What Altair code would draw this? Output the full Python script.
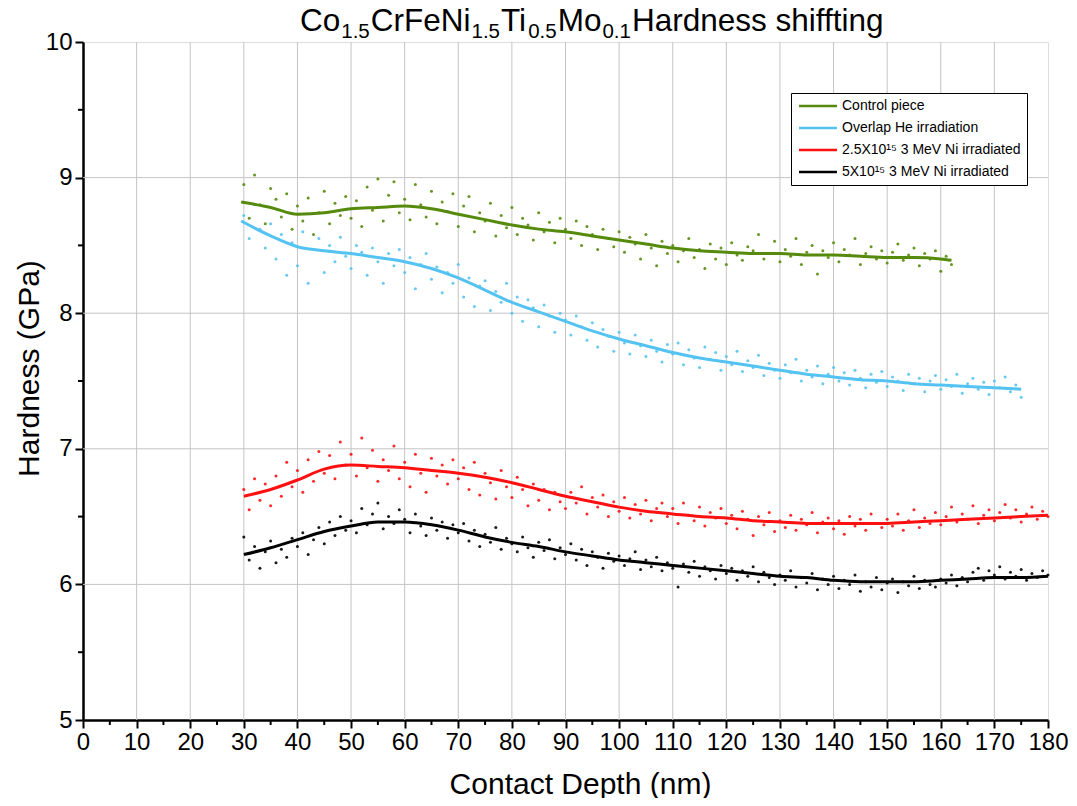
import altair as alt
import pandas as pd

# ---------------- data ----------------
x_ticks = list(range(0, 181, 10))
y_ticks = [5, 6, 7, 8, 9, 10]
x_grid = list(range(10, 171, 10))
y_grid = [6, 7, 8, 9]
x_minor = list(range(5, 180, 10))
y_minor = [5.5, 6.5, 7.5, 8.5, 9.5]

series_names = ["Control piece", "Overlap He irradiation",
                "2.5X10¹⁵ 3 MeV Ni irradiated", "5X10¹⁵ 3 MeV Ni irradiated"]
series_colors = ["#558a0c", "#55c3f2", "#ff1010", "#000000"]

# smoothed curves
green_x = [29.5, 35, 40, 45, 50, 55, 60, 65, 70, 75, 80, 85, 90, 95, 100, 105, 110, 115,
           120, 125, 130, 135, 140, 145, 150, 155, 160, 162]
green_y = [8.82, 8.78, 8.73, 8.74, 8.77, 8.78, 8.79, 8.77, 8.73, 8.69, 8.65, 8.62, 8.60, 8.57,
           8.54, 8.51, 8.48, 8.46, 8.45, 8.44, 8.44, 8.43, 8.43, 8.42, 8.41, 8.41, 8.40, 8.39]
blue_x = [29.5, 35, 40, 45, 50, 55, 60, 65, 70, 75, 80, 85, 90, 95, 100, 105, 110, 115, 120,
          125, 130, 135, 140, 145, 150, 155, 160, 165, 170, 175]
blue_y = [8.68, 8.57, 8.49, 8.46, 8.44, 8.41, 8.38, 8.33, 8.26, 8.17, 8.08, 8.01, 7.94, 7.87,
          7.81, 7.76, 7.71, 7.67, 7.64, 7.61, 7.58, 7.55, 7.53, 7.51, 7.50, 7.48, 7.47, 7.46,
          7.45, 7.44]
red_x = list(range(30, 181, 5))
red_y = [6.65, 6.70, 6.77, 6.85, 6.88, 6.87, 6.86, 6.84, 6.82, 6.79, 6.75, 6.70, 6.65, 6.61,
         6.57, 6.54, 6.52, 6.50, 6.49, 6.47, 6.46, 6.45, 6.45, 6.45, 6.45, 6.46, 6.47, 6.48,
         6.49, 6.50, 6.51]
black_x = list(range(30, 181, 5))
black_y = [6.22, 6.27, 6.33, 6.39, 6.43, 6.46, 6.46, 6.44, 6.40, 6.35, 6.31, 6.28, 6.24, 6.21,
           6.18, 6.16, 6.14, 6.12, 6.10, 6.08, 6.06, 6.05, 6.03, 6.02, 6.02, 6.02, 6.03, 6.04,
           6.05, 6.05, 6.06]

# raw measurement dots (one per nm)
green_pts_x = list(range(30, 163))
green_pts_y = [8.95, 8.70, 9.02, 8.80, 8.66, 8.92, 8.84, 8.71, 8.88, 8.62,
               8.79, 8.68, 8.85, 8.58, 8.74, 8.90, 8.66, 8.81, 8.72, 8.86,
               8.70, 8.83, 8.64, 8.93, 8.76, 8.99, 8.68, 8.87, 8.97, 8.74,
               8.84, 8.69, 8.95, 8.80, 8.71, 8.90, 8.66, 8.82, 8.75, 8.88,
               8.64, 8.79, 8.86, 8.60, 8.74, 8.68, 8.81, 8.57, 8.72, 8.63,
               8.78, 8.58, 8.70, 8.65, 8.54, 8.74, 8.60, 8.67, 8.52, 8.70,
               8.62, 8.55, 8.68, 8.50, 8.64, 8.58, 8.47, 8.62, 8.55, 8.49,
               8.60, 8.45, 8.56, 8.51, 8.40, 8.58, 8.48, 8.35, 8.53, 8.44,
               8.50, 8.38, 8.46, 8.55, 8.41, 8.47, 8.33, 8.51, 8.40, 8.48,
               8.36, 8.52, 8.43, 8.39, 8.49, 8.46, 8.58, 8.40, 8.44, 8.53,
               8.38, 8.47, 8.42, 8.55, 8.36, 8.45, 8.50, 8.29, 8.46, 8.41,
               8.52, 8.38, 8.47, 8.43, 8.55, 8.36, 8.44, 8.49, 8.40, 8.46,
               8.37, 8.45, 8.51, 8.39, 8.43, 8.48, 8.35, 8.44, 8.40, 8.46,
               8.31, 8.42, 8.36]
blue_pts_x = list(range(30, 176))
blue_pts_y = [8.72, 8.55, 8.80, 8.62, 8.48, 8.66, 8.40, 8.58, 8.28, 8.52,
              8.35, 8.60, 8.22, 8.47, 8.55, 8.30, 8.50, 8.38, 8.56, 8.42,
              8.33, 8.50, 8.45, 8.28, 8.48, 8.38, 8.22, 8.44, 8.35, 8.47,
              8.30, 8.41, 8.18, 8.36, 8.44, 8.25, 8.34, 8.15, 8.30, 8.22,
              8.36, 8.12, 8.26, 8.05, 8.20, 8.24, 8.02, 8.16, 8.08, 8.22,
              8.00, 8.12, 7.94, 8.10, 8.04, 7.90, 8.06, 7.98, 7.86, 8.00,
              7.95, 7.84, 7.98, 7.90, 7.80, 7.93, 7.75, 7.88, 7.83, 7.72,
              7.86, 7.78, 7.70, 7.84, 7.76, 7.68, 7.80, 7.72, 7.64, 7.77,
              7.70, 7.78, 7.62, 7.73, 7.67, 7.60, 7.75, 7.66, 7.71, 7.58,
              7.68, 7.62, 7.72, 7.57, 7.65, 7.60, 7.69, 7.54, 7.63, 7.58,
              7.52, 7.62, 7.56, 7.66, 7.50, 7.58, 7.53, 7.61, 7.48, 7.55,
              7.60, 7.50, 7.56, 7.47, 7.58, 7.52, 7.45, 7.55, 7.49, 7.57,
              7.46, 7.53, 7.50, 7.43, 7.55, 7.48, 7.52, 7.42, 7.50, 7.54,
              7.44, 7.51, 7.46, 7.55, 7.41, 7.48, 7.52, 7.44, 7.49, 7.40,
              7.50, 7.45, 7.53, 7.42, 7.47, 7.38]
red_pts_x = list(range(30, 181))
red_pts_y = [6.70, 6.55, 6.78, 6.62, 6.74, 6.58, 6.80, 6.65, 6.90, 6.72,
             6.84, 6.68, 6.92, 6.76, 6.98, 6.82, 6.95, 6.78, 7.05, 6.88,
             6.96, 6.80, 7.08, 6.86, 6.99, 6.76, 6.92, 6.84, 7.02, 6.78,
             6.90, 6.72, 6.96, 6.82, 6.68, 6.93, 6.80, 6.88, 6.74, 6.92,
             6.78, 6.86, 6.70, 6.90, 6.66, 6.82, 6.75, 6.63, 6.84, 6.72,
             6.64, 6.79, 6.70, 6.58, 6.74, 6.62, 6.70, 6.55, 6.68, 6.61,
             6.56, 6.68, 6.60, 6.72, 6.52, 6.64, 6.57, 6.66, 6.50, 6.61,
             6.54, 6.64, 6.49, 6.59, 6.52, 6.62, 6.47, 6.56, 6.60, 6.50,
             6.56, 6.45, 6.60, 6.51, 6.47, 6.57, 6.43, 6.53, 6.49, 6.56,
             6.45, 6.51, 6.41, 6.54, 6.48, 6.36, 6.50, 6.44, 6.53, 6.39,
             6.47, 6.42, 6.51, 6.40, 6.48, 6.44, 6.53, 6.38, 6.46, 6.49,
             6.41, 6.47, 6.37, 6.50, 6.43, 6.48, 6.40, 6.52, 6.45, 6.42,
             6.48, 6.43, 6.52, 6.40, 6.47, 6.55, 6.42, 6.49, 6.45, 6.53,
             6.44, 6.50, 6.57, 6.46, 6.52, 6.48, 6.58, 6.45, 6.51, 6.55,
             6.47, 6.53, 6.59, 6.49, 6.55, 6.46, 6.52, 6.57, 6.48, 6.54,
             6.50]
black_pts_x = list(range(30, 181))
black_pts_y = [6.35, 6.18, 6.28, 6.12, 6.24, 6.32, 6.16, 6.26, 6.20, 6.34,
               6.28, 6.38, 6.22, 6.33, 6.42, 6.30, 6.46, 6.36, 6.50, 6.40,
               6.47, 6.38, 6.56, 6.44, 6.52, 6.60, 6.41, 6.50, 6.45, 6.55,
               6.48, 6.38, 6.52, 6.43, 6.36, 6.49, 6.40, 6.46, 6.34, 6.44,
               6.38, 6.45, 6.32, 6.40, 6.28, 6.37, 6.31, 6.42, 6.26, 6.34,
               6.30, 6.24, 6.35, 6.27, 6.20, 6.31, 6.25, 6.33, 6.19, 6.27,
               6.22, 6.30, 6.18, 6.26, 6.14, 6.24, 6.20, 6.12, 6.23, 6.17,
               6.21, 6.14, 6.19, 6.24, 6.11, 6.18, 6.13, 6.20, 6.10, 6.16,
               6.12, 5.98, 6.15, 6.09, 6.17, 6.06, 6.13, 6.10, 6.04, 6.14,
               6.08, 6.12, 6.03, 6.10, 6.06, 6.13, 6.02, 6.09, 6.05, 6.00,
               6.07, 6.03, 6.10, 5.98, 6.05, 6.01, 6.08, 5.96, 6.04, 6.00,
               6.06, 5.97, 6.03, 6.00, 6.07, 5.95, 6.02, 5.98, 6.05, 5.96,
               6.01, 6.04, 5.94, 6.02, 5.99, 6.06, 5.97, 6.03, 6.00, 5.98,
               6.04, 6.01, 6.07, 5.99, 6.05, 6.02, 6.09, 6.12, 6.03, 6.10,
               6.07, 6.13, 6.04, 6.09, 6.06, 6.11, 6.03, 6.08, 6.05, 6.10,
               6.07]

# ---------------- tables ----------------
def long(xs, ys, name):
    return pd.DataFrame({"x": xs, "y": ys, "series": name})

lines_df = pd.concat([long(green_x, green_y, series_names[0]),
                      long(blue_x, blue_y, series_names[1]),
                      long(red_x, red_y, series_names[2]),
                      long(black_x, black_y, series_names[3])])
pts_df = pd.concat([long(green_pts_x, green_pts_y, series_names[0]),
                    long(blue_pts_x, blue_pts_y, series_names[1]),
                    long(red_pts_x, red_pts_y, series_names[2]),
                    long(black_pts_x, black_pts_y, series_names[3])])

W, H = 965, 678
FONT = "Liberation Sans"
xscale = alt.Scale(domain=[0, 180], nice=False, zero=False)
yscale = alt.Scale(domain=[5, 10], nice=False, zero=False)

common_axis = dict(grid=False, domainColor="black", domainWidth=2.5, tickColor="black",
                   tickWidth=2, tickSize=8, labelFontSize=24, labelColor="black",
                   labelFont=FONT, titleFont=FONT, titleFontSize=30,
                   titleFontWeight="normal", titleColor="black", labelFlush=False)
xaxis = alt.Axis(values=x_ticks, title="Contact Depth (nm)", labelPadding=2,
                 titlePadding=15, titleX=497, **common_axis)
yaxis = alt.Axis(values=y_ticks, title="Hardness (GPa)", labelPadding=3,
                 titlePadding=1, titleY=326, **common_axis)

grid_x = alt.Chart(pd.DataFrame({"x": x_grid})).mark_rule(color="#c4c4c4", strokeWidth=1).encode(
    x=alt.X("x:Q", scale=xscale, axis=xaxis), y=alt.value(0), y2=alt.value(H))
grid_y = alt.Chart(pd.DataFrame({"y": y_grid})).mark_rule(color="#c4c4c4", strokeWidth=1).encode(
    y=alt.Y("y:Q", scale=yscale, axis=yaxis), x=alt.value(0), x2=alt.value(W))
minor_x = alt.Chart(pd.DataFrame({"x": x_minor})).mark_rule(color="black", strokeWidth=2).encode(
    x=alt.X("x:Q", scale=xscale, axis=xaxis), y=alt.value(H), y2=alt.value(H + 5))
minor_y = alt.Chart(pd.DataFrame({"y": y_minor})).mark_rule(color="black", strokeWidth=2).encode(
    y=alt.Y("y:Q", scale=yscale, axis=yaxis), x=alt.value(-5), x2=alt.value(0))

points = alt.Chart(pts_df).mark_circle(size=9, opacity=0.9).encode(
    x=alt.X("x:Q", scale=xscale, axis=xaxis),
    y=alt.Y("y:Q", scale=yscale, axis=yaxis),
    color=alt.Color("series:N", scale=alt.Scale(domain=series_names, range=series_colors),
                    legend=None),
)

legend = alt.Legend(title=None, orient="none", legendX=708, legendY=51, strokeColor="black",
                    fillColor="white", padding=6, labelFontSize=14, labelFont=FONT,
                    labelColor="black", labelLimit=400, symbolType="M-4,0L4,0",
                    symbolSize=90, symbolStrokeWidth=2.5, symbolOffset=14, labelOffset=17,
                    rowPadding=8)
lines = alt.Chart(lines_df).mark_line(strokeWidth=3, interpolate="monotone").encode(
    x=alt.X("x:Q", scale=xscale, axis=xaxis),
    y=alt.Y("y:Q", scale=yscale, axis=yaxis),
    color=alt.Color("series:N", scale=alt.Scale(domain=series_names, range=series_colors),
                    legend=legend, sort=series_names),
    detail="series:N",
)

# title with subscripts, laid out from Arial (Liberation Sans) advance widths
adv = {'C': 722, 'o': 556, 'r': 333, 'F': 611, 'e': 556, 'N': 722, 'i': 222, 'T': 611,
       'M': 833, 'H': 722, 'a': 556, 'd': 556, 'n': 556, 's': 500, 'h': 556, 'f': 278,
       't': 278, 'g': 556, ' ': 278, '0': 556, '1': 556, '5': 556, '.': 278}
segments = [("Co", False), ("1.5", True), ("CrFeNi", False), ("1.5", True), ("Ti", False),
            ("0.5", True), ("Mo", False), ("0.1", True), ("Hardness shiffting", False)]
MAIN, SUB = 31.5, 20.5
pos = 217
title_layers = []
for seg, sub in segments:
    fs = SUB if sub else MAIN
    title_layers.append(
        alt.Chart(pd.DataFrame({"t": [seg]})).mark_text(
            align="left", baseline="alphabetic", fontSize=fs, font=FONT, color="black"
        ).encode(text="t:N", x=alt.value(pos), y=alt.value(-4 if sub else -11))
    )
    pos += sum(adv[c] for c in seg) * fs / 1000.0 + 1

chart = alt.layer(grid_x, grid_y, points, lines, minor_x, minor_y, *title_layers).resolve_scale(
    color="independent"
).properties(
    width=W, height=H,
    autosize=alt.AutoSizeParams(type="none"),
    padding={"left": 75, "top": 34, "right": 21, "bottom": 78},
).configure_view(stroke=None).configure(font=FONT)

chart.save("out.html", embed_options={"renderer": "svg", "actions": False})
